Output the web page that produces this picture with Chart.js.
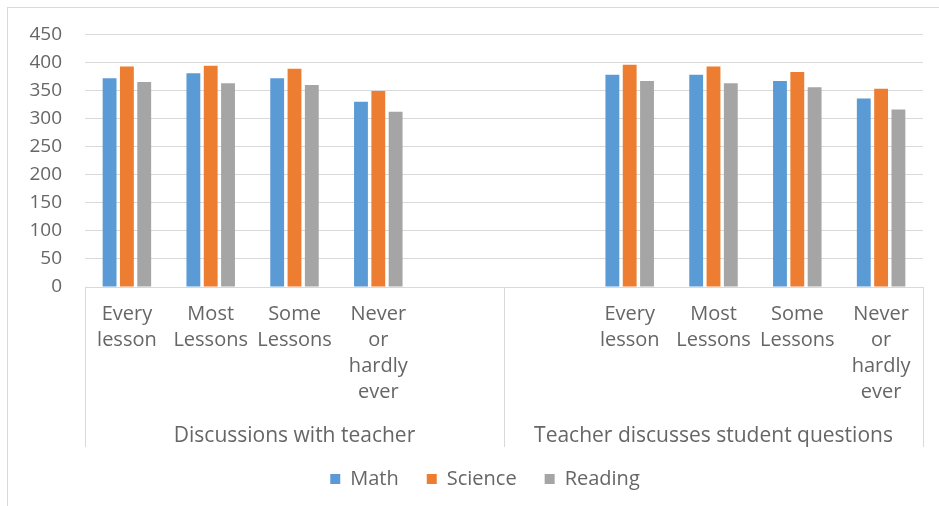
<!DOCTYPE html>
<html>
<head>
<meta charset="utf-8">
<script src="https://cdn.jsdelivr.net/npm/chart.js@4/dist/chart.umd.min.js"></script>
<style>
  html, body { margin: 0; padding: 0; background: #fff; overflow: hidden; }
  #frame { position: absolute; left: 7px; top: 7px; width: 960px; height: 520px; border: 1px solid #d9d9d9; }
  #chart { position: absolute; left: 0; top: 0; }
</style>
</head>
<body>
<div id="frame"></div>
<canvas id="chart" width="939" height="506"></canvas>
<script>
const categories = [["Every", "lesson"], ["Most", "Lessons"], ["Some", "Lessons"], ["Never", "or", "hardly", "ever"]];
const groups = ["Discussions with teacher", "Teacher discusses student questions"];

// first 4 = discussions with teacher, last 4 = teacher discusses student questions
const math    = [372, 381, 372, 330, 378, 378, 367, 336];
const science = [393, 394, 389, 349, 396, 393, 383, 353];
const reading = [365, 363, 360, 312, 367, 363, 356, 316];

const yTicks = { min: 0, max: 450, step: 50 };

const FONT = "'Open Sans', sans-serif";
const TEXT = "#666666";
const LINE = "#d9d9d9";

// two blank slots between the groups
const labels = [...categories, "", "", ...categories];
const spread = (arr) => [...arr.slice(0, 4), null, null, ...arr.slice(4)];

// group captions under the category labels + the separator lines
const groupAxis = {
  id: "groupAxis",
  afterLayout(chart) {
    // centre the legend under the plot like Excel does
    const lg = chart.legend;
    lg.left += 47;
    lg.width = lg.right - lg.left;
  },
  afterDraw(chart) {
    const { ctx, scales } = chart;
    const x = scales.x;
    const top = x.top;
    const bottom = x.top + 160;
    const mid = x.getPixelForValue(4.5);
    ctx.save();
    ctx.strokeStyle = LINE;
    ctx.lineWidth = 1;
    for (const px of [x.left, mid, x.right]) {
      const p = Math.round(px) + 0.5;
      ctx.beginPath();
      ctx.moveTo(p, top);
      ctx.lineTo(p, bottom);
      ctx.stroke();
    }
    ctx.fillStyle = TEXT;
    ctx.font = `21px ${FONT}`;
    ctx.textAlign = "center";
    ctx.textBaseline = "middle";
    ctx.fillText(groups[0], (x.left + mid) / 2, x.top + 149);
    ctx.fillText(groups[1], (mid + x.right) / 2, x.top + 149);
    ctx.restore();
  },
};

new Chart(document.getElementById("chart"), {
  type: "bar",
  data: {
    labels,
    datasets: [
      { label: "Math", data: spread(math), backgroundColor: "#5b9bd5" },
      { label: "Science", data: spread(science), backgroundColor: "#ed7d31" },
      { label: "Reading", data: spread(reading), backgroundColor: "#a5a5a5" },
    ],
  },
  options: {
    responsive: false,
    animation: false,
    layout: { padding: { top: 33, right: 16, bottom: 7, left: 0 } },
    datasets: { bar: { categoryPercentage: 0.62, barPercentage: 0.8 } },
    scales: {
      y: {
        min: yTicks.min,
        max: yTicks.max,
        ticks: { stepSize: yTicks.step, padding: 23, color: TEXT, font: { family: FONT, size: 19 } },
        grid: { color: LINE, drawTicks: false },
        border: { display: false },
        afterFit(s) { s.width = 85; },
      },
      x: {
        grid: { display: false },
        border: { color: LINE },
        ticks: {
          autoSkip: false, maxRotation: 0, minRotation: 0, padding: 6,
          color: TEXT, font: { family: FONT, size: 20, lineHeight: 26 / 20 },
        },
        afterFit(s) { s.height = 154; },
      },
    },
    plugins: {
      legend: {
        position: "bottom",
        labels: {
          boxWidth: 10, boxHeight: 10, padding: 28,
          color: TEXT, font: { family: FONT, size: 20 },
        },
      },
      tooltip: { enabled: false },
    },
  },
  plugins: [groupAxis],
});
</script>
</body>
</html>
